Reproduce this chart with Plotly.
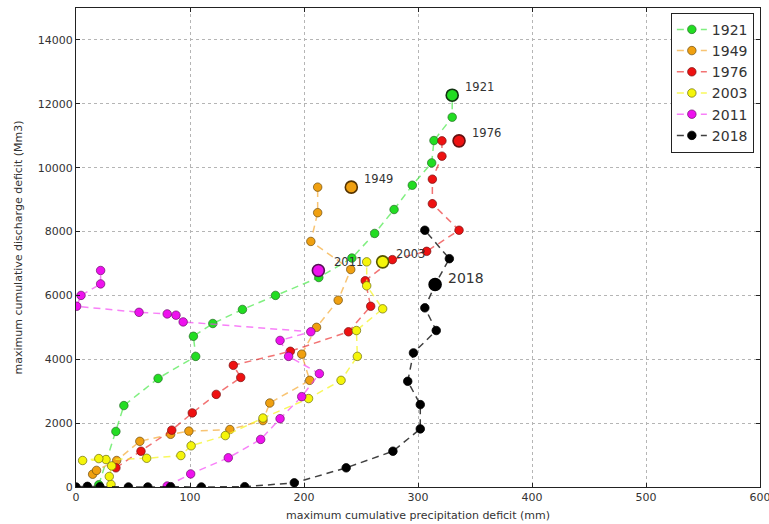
import plotly.graph_objects as go

years = ["1921", "1949", "1976", "2003", "2011", "2018"]

x_1921 = [20, 35, 42, 72, 105, 103, 120, 146, 175, 213, 242, 262, 279, 295, 312, 314, 330, 330]
y_1921 = [70, 1740, 2550, 3400, 4090, 4720, 5120, 5560, 6000, 6560, 7170, 7940, 8690, 9450, 10150, 10850, 11580, 12270]

x_1949 = [14.6, 18, 35.7, 56, 83, 99, 135, 164, 170, 205, 198, 211, 230, 241, 206, 212, 212]
y_1949 = [400, 520, 830, 1430, 1650, 1750, 1800, 2080, 2630, 3340, 4160, 5000, 5850, 6810, 7690, 8590, 9390]

x_1976 = [35, 57, 84, 102, 123, 144.5, 138, 188, 239, 258.5, 253.7, 277.5, 307.6, 336, 312.6, 312.6, 321, 321]
y_1976 = [600, 1120, 1780, 2320, 2900, 3430, 3810, 4250, 4860, 5660, 6460, 7120, 7380, 8040, 8870, 9640, 10360, 10840]

x_2003 = [30.7, 29.2, 31.3, 26.3, 20, 5.8, 62, 92, 101, 131, 164, 204, 232.5, 246.8, 246, 269, 255, 255]
y_2003 = [80, 330, 660, 860, 890, 830, 900, 985, 1290, 1610, 2160, 2770, 3340, 4090, 4900, 5580, 6300, 7050]

x_2011 = [80, 100.6, 133.6, 162, 179, 198, 213.5, 186.5, 179, 206, 94, 87.7, 80, 55.3, 0.6, 4.4, 21.6, 21.6]
y_2011 = [30, 410, 915, 1490, 2140, 2830, 3550, 4090, 4590, 4860, 5170, 5380, 5420, 5470, 5660, 6000, 6360, 6780]

x_2018 = [0, 10, 21, 46, 63, 83, 110, 148, 191.5, 237, 278, 302, 302, 291, 296, 316, 306, 315, 327.5, 306]
y_2018 = [0, 20, 10, 0, 0, 10, 0, 10, 130, 600, 1120, 1820, 2580, 3310, 4200, 4900, 5610, 6340, 7150, 8040]

# highlighted points (labelled)
final_x = [330, 241.5, 336, 269, 212.6, 315]
final_y = [12270, 9390, 10840, 7050, 6780, 6340]

series_x = [x_1921, x_1949, x_1976, x_2003, x_2011, x_2018]
series_y = [y_1921, y_1949, y_1976, y_2003, y_2011, y_2018]

marker_colors = ["#22dd22", "#f0a010", "#ee1111", "#f5f50a", "#ee11ee", "#000000"]
line_colors = ["rgba(60,230,60,0.65)", "rgba(245,165,40,0.65)", "rgba(235,40,40,0.65)",
               "rgba(245,245,40,0.75)", "rgba(245,60,245,0.65)", "rgba(0,0,0,0.75)"]
edge_colors = ["rgba(40,110,40,0.9)", "rgba(110,80,20,0.9)", "rgba(120,20,20,0.9)",
               "rgba(110,110,20,0.9)", "rgba(110,20,110,0.9)", "rgba(0,0,0,1)"]
big_edges = ["#113311", "#553300", "#661111", "#555500", "#551155", "#000000"]

fig = go.Figure()
for i, yr in enumerate(years):
    fig.add_trace(go.Scatter(
        x=series_x[i], y=series_y[i], mode="lines+markers", name=yr,
        line=dict(color=line_colors[i], width=1.5, dash="7px,5px"),
        marker=dict(size=8.5, color=marker_colors[i],
                    line=dict(color=edge_colors[i], width=0.8)),
    ))
for i, yr in enumerate(years):
    fig.add_trace(go.Scatter(
        x=[final_x[i]], y=[final_y[i]], mode="markers", showlegend=False,
        marker=dict(size=12, color=marker_colors[i],
                    line=dict(color=big_edges[i], width=1.6)),
    ))
    fig.add_annotation(
        x=final_x[i], y=final_y[i], text=yr, showarrow=False,
        xanchor="left", yanchor="middle", xshift=11 if yr != "2011" else 14,
        yshift=8 if yr != "2018" else 7,
        font=dict(family="DejaVu Sans", size=14 if yr == "2018" else 11.5, color="#333333"),
    )

axis_common = dict(
    showline=True, linecolor="#222222", linewidth=1, mirror="ticks",
    ticks="inside", ticklen=4, tickcolor="#222222",
    showgrid=True, gridcolor="#b5b5b5", griddash="dot", gridwidth=1,
    zeroline=False, automargin=False, ticklabeloverflow="allow",
    tickfont=dict(family="DejaVu Sans", size=11, color="#333333"),
)

fig.update_layout(
    width=769, height=524,
    margin=dict(l=76, r=9, t=8, b=37),
    paper_bgcolor="white", plot_bgcolor="white",
    font=dict(family="DejaVu Sans", color="#333333"),
    showlegend=True,
    legend=dict(x=0.991, y=0.99, xanchor="right", yanchor="top",
                bgcolor="white", bordercolor="#222222", borderwidth=1,
                font=dict(family="DejaVu Sans", size=14, color="#333333"),
                itemwidth=30, tracegroupgap=0),
    xaxis=dict(range=[0, 600], dtick=100, tickformat="d", **axis_common,
               title=dict(text="maximum cumulative precipitation deficit (mm)",
                          font=dict(family="DejaVu Sans", size=11, color="#333333"),
                          standoff=8)),
    yaxis=dict(range=[0, 15000], dtick=2000, tickformat="d", **axis_common,
               title=dict(text="maximum cumulative discharge deficit (Mm3)",
                          font=dict(family="DejaVu Sans", size=11, color="#333333"),
                          standoff=12)),
)

fig.write_html(
    "out.html",
    config={"displayModeBar": False},
    post_script="document.body.style.margin='0';document.body.style.padding='0';"
                "document.body.style.overflow='hidden';",
)
